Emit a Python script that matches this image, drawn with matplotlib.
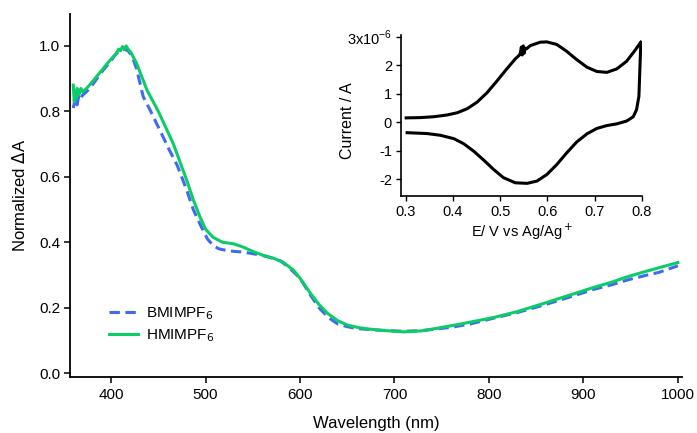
import matplotlib
matplotlib.use("Agg")
import matplotlib.pyplot as plt
import numpy as np

plt.rcParams["font.family"] = ["Liberation Sans", "DejaVu Sans"]

# main panel: normalized transient absorption spectra
wl_bmim = [360, 362, 364, 366, 368, 370, 374, 380, 390, 400, 405, 410, 414, 418,
           422, 427, 434, 442, 452, 462, 470, 480, 487, 495, 502, 508, 514, 522,
           530, 540, 550, 560, 570, 580, 590, 600, 610, 620, 630, 640, 650, 660,
           675, 690, 710, 730, 745, 760, 780, 805, 830, 858, 885, 911, 930, 947,
           965, 980, 990, 1000]
da_bmim = [0.81, 0.84, 0.82, 0.85, 0.84, 0.85, 0.86, 0.88, 0.92, 0.955, 0.975, 0.985,
           0.99, 0.985, 0.97, 0.93, 0.845, 0.80, 0.74, 0.68, 0.635, 0.56, 0.50, 0.45,
           0.41, 0.39, 0.38, 0.375, 0.372, 0.370, 0.365, 0.36, 0.352, 0.342, 0.318,
           0.29, 0.243, 0.20, 0.17, 0.15, 0.142, 0.136, 0.133, 0.130, 0.128, 0.130,
           0.135, 0.14, 0.15, 0.168, 0.185, 0.208, 0.232, 0.256, 0.27, 0.285,
           0.298, 0.308, 0.318, 0.328]

wl_hmim = [360, 361, 362, 363, 364, 366, 368, 370, 374, 380, 390, 400, 405, 408,
           410, 412, 414, 416, 418, 421, 427, 438, 450, 458, 466, 473, 480, 487,
           494, 500, 508, 518, 530, 540, 550, 560, 572, 582, 593, 600, 611, 620,
           629, 640, 650, 662, 675, 690, 710, 728, 745, 770, 805, 830, 858, 885,
           911, 930, 947, 965, 980, 990, 1000]
da_hmim = [0.88, 0.83, 0.86, 0.84, 0.87, 0.85, 0.87, 0.86, 0.87, 0.89, 0.925, 0.96,
           0.975, 0.99, 0.985, 0.998, 0.99, 1.0, 0.99, 0.98, 0.947, 0.865, 0.80,
           0.75, 0.70, 0.645, 0.59, 0.53, 0.478, 0.44, 0.415, 0.40, 0.395, 0.385,
           0.372, 0.361, 0.351, 0.339, 0.315, 0.29, 0.244, 0.21, 0.183, 0.16, 0.147,
           0.139, 0.134, 0.130, 0.126, 0.129, 0.137, 0.15, 0.17, 0.188, 0.213, 0.238,
           0.262, 0.278, 0.295, 0.31, 0.322, 0.33, 0.338]

# inset: cyclic voltammogram (current in units of 1e-6 A)
e_fwd = [0.301, 0.331, 0.359, 0.387, 0.409, 0.430, 0.451, 0.472, 0.493, 0.514,
         0.532, 0.541, 0.543, 0.545, 0.547, 0.549, 0.551, 0.553, 0.556, 0.564,
         0.585, 0.599, 0.620, 0.641, 0.662, 0.684, 0.705, 0.726, 0.747, 0.768,
         0.786, 0.798]
i_fwd = [0.15, 0.16, 0.19, 0.25, 0.33, 0.47, 0.70, 1.03, 1.44, 1.87,
         2.22, 2.36, 2.44, 2.64, 2.36, 2.68, 2.42, 2.60, 2.58, 2.69,
         2.81, 2.82, 2.73, 2.49, 2.20, 1.93, 1.78, 1.75, 1.87, 2.14,
         2.53, 2.81]
e_rev = [0.798, 0.796, 0.794, 0.789, 0.782, 0.768, 0.747, 0.726, 0.705, 0.684,
         0.662, 0.641, 0.620, 0.599, 0.578, 0.557, 0.532, 0.507, 0.486, 0.465,
         0.444, 0.423, 0.402, 0.373, 0.345, 0.303]
i_rev = [2.78, 1.85, 0.91, 0.44, 0.19, 0.04, -0.06, -0.12, -0.22, -0.41,
         -0.70, -1.08, -1.49, -1.84, -2.07, -2.15, -2.13, -1.95, -1.66, -1.33,
         -1.02, -0.76, -0.58, -0.46, -0.40, -0.37]

fig = plt.figure(figsize=(6.97, 4.33), dpi=100)
ax = fig.add_axes([0.1004, 0.130, 0.8776, 0.838])

ax.plot(wl_bmim, da_bmim, color="#3f6bf2", lw=2.2, dashes=(3.4, 1.8),
        label="BMIMPF$_6$")
ax.plot(wl_hmim, da_hmim, color="#0ccc68", lw=2.2, label="HMIMPF$_6$")

ax.set_xlim(356.5, 1004)
ax.set_ylim(-0.011, 1.098)
ax.set_xticks(np.arange(400, 1001, 100))
ax.set_yticks(np.arange(0, 1.01, 0.2))
ax.yaxis.set_major_formatter(matplotlib.ticker.FormatStrFormatter("%.1f"))
for side in ("top", "right"):
    ax.spines[side].set_visible(False)
for side in ("left", "bottom"):
    ax.spines[side].set_linewidth(1.3)
ax.tick_params(labelsize=11, width=1.1, length=4)
ax.tick_params(axis="x", pad=4)
ax.tick_params(axis="y", pad=3)
ax.set_xlabel("Wavelength (nm)", fontsize=12, labelpad=10)
ax.set_ylabel("Normalized $\\Delta$A", fontsize=12, labelpad=8)
ax.legend(loc="lower left", bbox_to_anchor=(0.042, 0.053), frameon=False,
          fontsize=11, handlelength=1.9, handletextpad=0.5, labelspacing=0.3)

# inset
ins = fig.add_axes([0.5753, 0.547, 0.3461, 0.372])
ins.plot(e_fwd, i_fwd, color="black", lw=2.2, solid_joinstyle="round")
ins.plot(e_rev, i_rev, color="black", lw=2.2, solid_joinstyle="round")
ins.set_xlim(0.29, 0.801)
ins.set_ylim(-2.6, 3.06)
ins.set_xticks([0.3, 0.4, 0.5, 0.6, 0.7, 0.8])
ins.set_xticklabels(["0.3", "0.4", "0.5", "0.6", "0.7", "0.8"])
ins.set_yticks([-2, -1, 0, 1, 2, 3])
ins.set_yticklabels(["-2", "-1", "0", "1", "2", "3x10$^{\\mathregular{-6}}$"])
for side in ("top", "right"):
    ins.spines[side].set_visible(False)
for side in ("left", "bottom"):
    ins.spines[side].set_linewidth(1.2)
ins.tick_params(labelsize=10.5, width=1.0, length=3.5, pad=3)
ins.set_xlabel("E/ V vs Ag/Ag$^+$", fontsize=10.5, labelpad=2)
ins.set_ylabel("Current / A", fontsize=11.5)
ins.yaxis.set_label_coords(-0.19, 0.47)

fig.savefig("out.png", dpi=100)
